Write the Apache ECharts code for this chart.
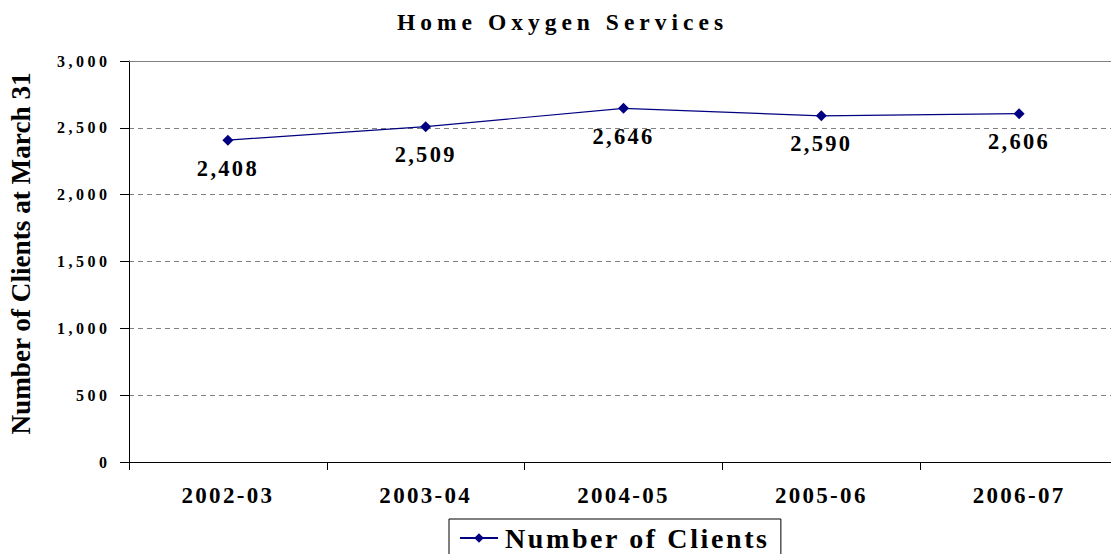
<!DOCTYPE html>
<html><head><meta charset="utf-8">
<script src="https://cdn.jsdelivr.net/npm/echarts@6/dist/echarts.min.js"></script>
<style>
html,body{margin:0;padding:0;background:#fff;}
#c{width:1111px;height:554px;}
#c text[style*="23.5px"]{letter-spacing:5px;}
#c text[style*="23px"]{letter-spacing:2.3px;}
#c text[style*="22.5px"]{letter-spacing:2.3px;}
#c text[style*="16px"]{letter-spacing:3.5px;}
#c text[style*="28px"]{letter-spacing:2.6px;}
</style></head><body><div id="c"></div>
<script>
const titleText = 'Home Oxygen Services';
const yAxisName = 'Number of Clients at March 31';
const seriesName = 'Number of Clients';
const categories = ['2002-03', '2003-04', '2004-05', '2005-06', '2006-07'];
const clients = [2408, 2509, 2646, 2590, 2606];
const yMin = 0, yMax = 3000, yStep = 500;

const fmt = v => Number(v).toLocaleString('en-US');
const FONT = 'Liberation Serif';
const chart = echarts.init(document.getElementById('c'), null, {renderer: 'svg'});
chart.setOption({
  animation: false,
  backgroundColor: '#fff',
  title: {
    text: titleText, left: 397, top: 10, padding: 0,
    textStyle: {fontFamily: FONT, fontWeight: 'bold', fontSize: 23.5, color: '#000'}
  },
  grid: {left: 129, right: -7, top: 61, bottom: 92, containLabel: false, outerBoundsMode: 'none'},
  legend: {
    data: [seriesName], left: 449, top: 519, orient: 'horizontal',
    borderColor: '#000', borderWidth: 1, padding: [5, 55, 8, 10],
    itemWidth: 38, itemHeight: 12, itemGap: 0,
    textStyle: {fontFamily: FONT, fontWeight: 'bold', fontSize: 28, color: '#000', padding: [0, 0, 0, 2]}
  },
  xAxis: {
    type: 'category', data: categories, boundaryGap: true,
    axisLine: {lineStyle: {color: '#000', width: 1}},
    axisTick: {show: true, length: 8, lineStyle: {color: '#000'}},
    axisLabel: {fontFamily: FONT, fontWeight: 'bold', fontSize: 23, color: '#000', margin: 22}
  },
  yAxis: {
    type: 'value', min: yMin, max: yMax, interval: yStep,
    name: yAxisName, nameLocation: 'middle', nameGap: 95, nameRotate: 90,
    nameTextStyle: {fontFamily: FONT, fontWeight: 'bold', fontSize: 27.2, color: '#000', padding: [0, 0, 0, 16]},
    axisLine: {show: true, lineStyle: {color: '#000', width: 1}},
    axisTick: {show: true, length: 9, lineStyle: {color: '#000'}},
    axisLabel: {fontFamily: FONT, fontWeight: 'bold', fontSize: 16, color: '#000', margin: 18.5, formatter: fmt},
    splitLine: {show: true, lineStyle: {color: '#808080', type: [5, 4], width: 1}}
  },
  series: [{
    name: seriesName, type: 'line', data: clients,
    symbol: 'diamond', symbolSize: 11,
    lineStyle: {color: '#000080', width: 1.2},
    itemStyle: {color: '#000080'},
    label: {show: true, position: 'bottom', distance: 11, formatter: p => fmt(p.value),
      fontFamily: FONT, fontWeight: 'bold', fontSize: 22.5, color: '#000'},
    markLine: {silent: true, symbol: 'none', label: {show: false},
      lineStyle: {type: 'solid', color: '#808080', width: 1},
      data: [{yAxis: yMax}]}
  }]
});
</script></body></html>
